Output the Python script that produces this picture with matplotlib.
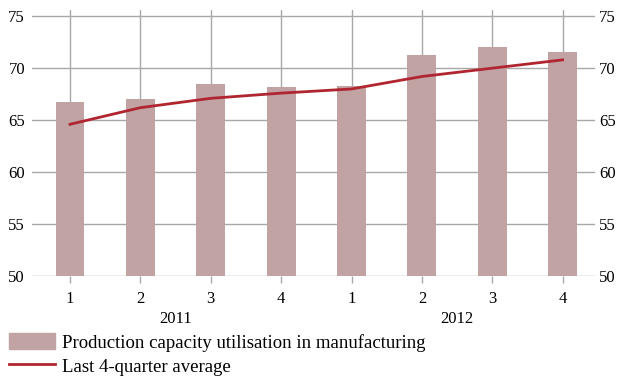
import numpy as np
from matplotlib import pyplot as plt
from matplotlib.patches import Patch
from matplotlib.lines import Line2D

# quarterly data, 2011-2012
quarters = ["1", "2", "3", "4", "1", "2", "3", "4"]
years = ["2011", "2012"]
utilisation = [66.7, 67.0, 68.5, 68.2, 68.3, 71.3, 72.0, 71.6]
avg_4q = [64.6, 66.2, 67.1, 67.6, 68.0, 69.2, 70.0, 70.8]

bar_color = "#c1a3a4"
line_color = "#b02530"
grid_color = "#a8a8a8"

plt.rcParams["font.family"] = ["Liberation Serif", "DejaVu Serif"]
plt.rcParams["font.size"] = 12

fig = plt.figure(figsize=(6.24, 3.76), dpi=100)
ax = fig.add_axes([32 / 624, 100 / 376, 563 / 624, 266 / 376])

x = np.arange(len(quarters))
ax.bar(x, utilisation, width=0.41, bottom=0, color=bar_color, zorder=2)
ax.plot(x, avg_4q, color=line_color, linewidth=2, zorder=3)

ax.set_xlim(-0.54, 7.46)
ax.set_ylim(50, 75.6)
yt = [50, 55, 60, 65, 70, 75]
ax.set_yticks(yt)
ax.set_xticks(x)
ax.set_xticklabels(quarters)
ax.grid(True, axis="both", color=grid_color, linewidth=1, zorder=0)
ax.set_axisbelow(True)
for s in ax.spines.values():
    s.set_visible(False)
ax.tick_params(axis="y", length=0, pad=5)
ax.tick_params(axis="x", length=5, width=1, color=grid_color, pad=6)

ax2 = ax.twinx()
ax2.set_ylim(ax.get_ylim())
ax2.set_yticks(yt)
ax2.tick_params(axis="y", length=0, pad=3)
for s in ax2.spines.values():
    s.set_visible(False)

# year labels under quarter ticks
for i, yr in enumerate(years):
    ax.text(4 * i + 1.5, -0.13, yr, transform=ax.get_xaxis_transform(),
            ha="center", va="top")

handles = [Patch(color=bar_color), Line2D([], [], color=line_color, linewidth=2)]
labels = ["Production capacity utilisation in manufacturing", "Last 4-quarter average"]
fig.legend(handles, labels, loc="upper left", bbox_to_anchor=(9 / 624, 1 - 333 / 376),
           frameon=False, borderpad=0, borderaxespad=0, handlelength=2.45,
           handleheight=0.95, handletextpad=0.4, labelspacing=0.3,
           prop={"size": 13.5})

fig.savefig("out.png", dpi=100)
